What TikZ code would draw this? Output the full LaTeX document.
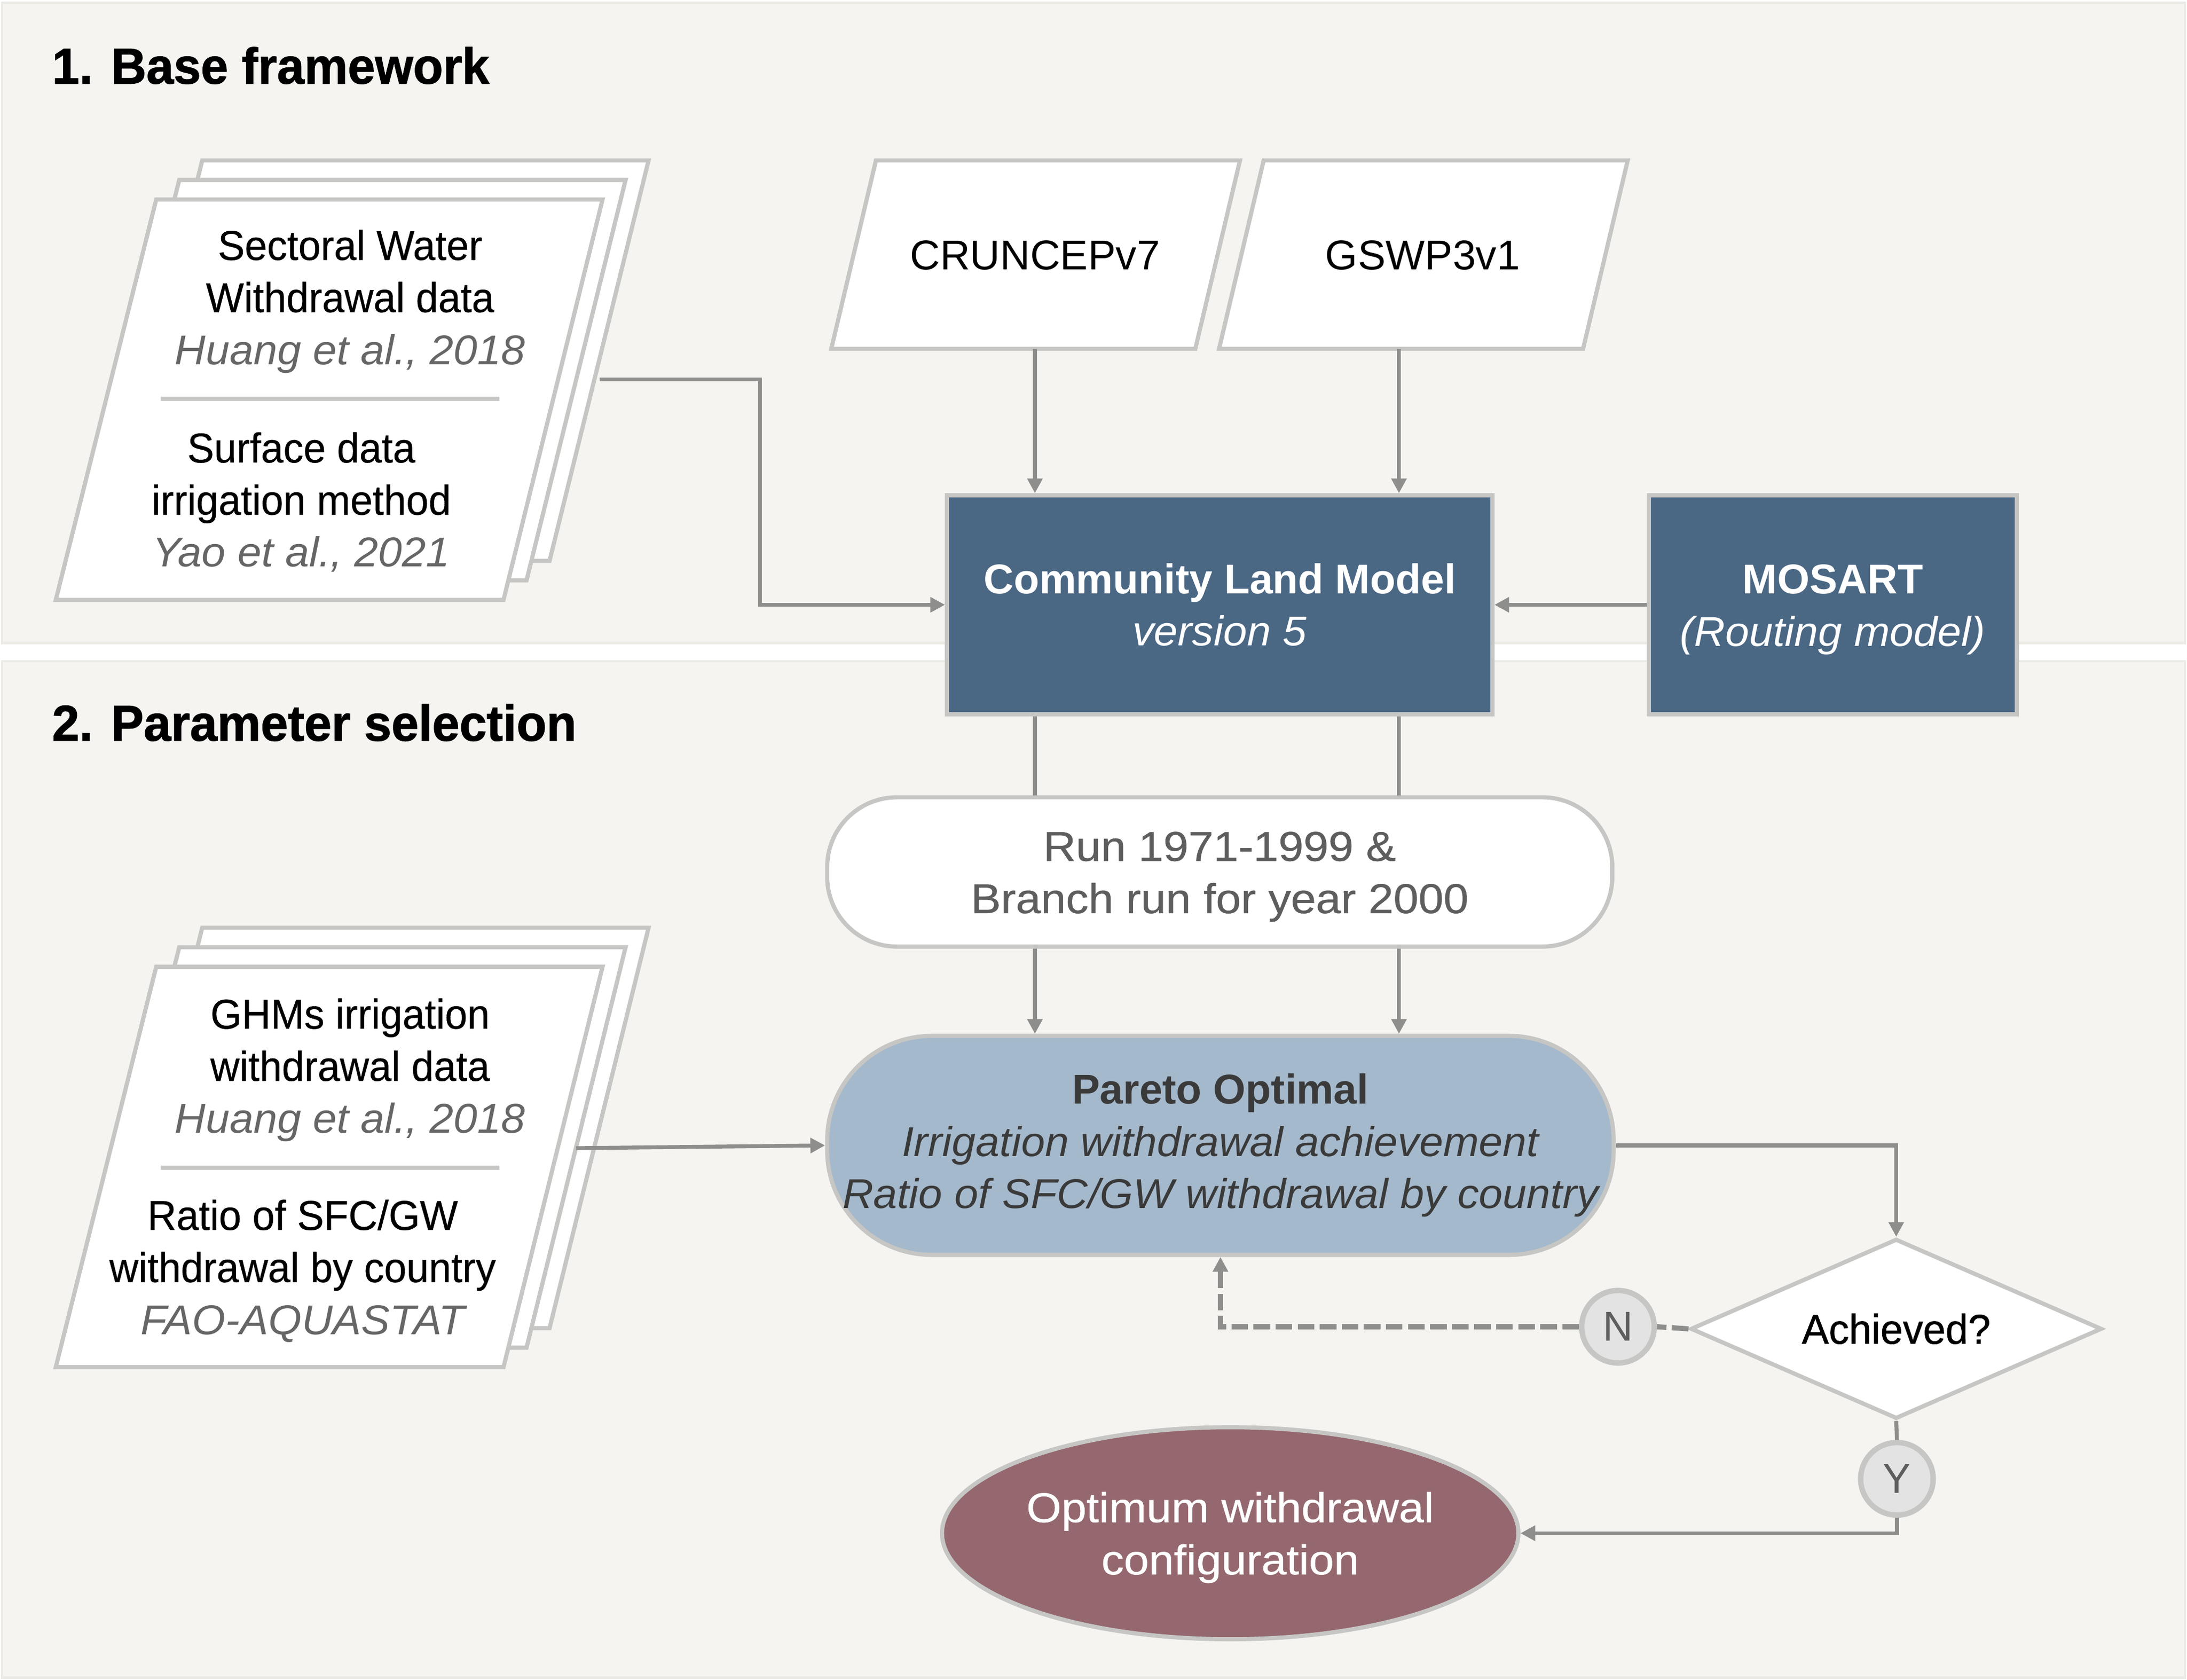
\documentclass[tikz,border=0pt]{standalone}
\usepackage{fontspec}
\setmainfont{Liberation Sans}[FakeStretch=1.0]
\newfontfamily\titlefont{Liberation Sans}[FakeStretch=0.97, FakeBold=1.2]
\newfontfamily\itfont{Liberation Sans}[FakeStretch=1.03]
\newfontfamily\stackfont{Liberation Sans}[FakeStretch=0.965, FakeBold=0.4]
\newfontfamily\medfont{Liberation Sans}[FakeStretch=1.08, FakeBold=0.6]
\newfontfamily\achfont{Liberation Sans}[FakeStretch=0.97, FakeBold=0.8]
\usetikzlibrary{arrows.meta,shapes.geometric,calc}
\definecolor{bgc}{HTML}{F5F4F0}
\definecolor{panelc}{HTML}{ECEAE4}
\definecolor{bordc}{HTML}{C6C6C4}
\definecolor{arrc}{HTML}{8E8E8C}
\definecolor{clmc}{HTML}{4A6784}
\definecolor{parc}{HTML}{A5B9CC}
\definecolor{optc}{HTML}{94686E}
\definecolor{citec}{HTML}{666666}
\definecolor{darkc}{HTML}{3A3A3A}
\definecolor{runc}{HTML}{5E5E5E}
\definecolor{circc}{HTML}{E3E3E3}
\newcommand\mycite[1]{{\color{citec}\itfont\itshape #1}}
\newcommand\myit[1]{{\itfont\itshape #1}}
\newcommand\lowstrut{\rule{0pt}{15.8pt}}
\tikzset{
  every node/.style={inner sep=0pt},
  panel/.style={fill=bgc, draw=panelc, line width=1pt},
  doc/.style={fill=white, draw=bordc, line width=1.7pt, line join=miter},
  txt/.style={align=center, font=\fontsize{17}{21.3}\selectfont, text=black},
  stk/.style={txt, font=\stackfont\fontsize{17}{21.3}\selectfont},
  ttl/.style={anchor=west, font=\titlefont\bfseries\fontsize{20.6}{24}\selectfont, text=black},
  boxc/.style={draw=bordc, line width=1.7pt},
  conn/.style={draw=arrc, line width=1.6pt},
  arr/.style={conn, -{Triangle[length=6pt,width=6pt]}},
  darr/.style={arr, line width=2.1pt, dash pattern=on 6.8pt off 2.2pt},
  dline/.style={conn, line width=2.1pt, dash pattern=on 6.8pt off 2.2pt},
  yn/.style={circle, fill=circc, draw=bordc, line width=2.2pt, minimum size=1.04cm, text=runc, font=\fontsize{17}{20}\selectfont},
}
\begin{document}
\begin{tikzpicture}[x=0.02cm, y=-0.02cm]
\useasboundingbox (0,0) rectangle (1568,1204);
\fill[white] (0,0) rectangle (1568,1204);
% panels
\draw[panel] (1.5,2) rectangle (1566.5,461);
\draw[panel] (1.5,474) rectangle (1566.5,1202.5);
\node[ttl] (t1) at (37,47) {1. Base framework};
\node[ttl] (t2) at (37,518) {2. Parameter selection};

% connectors behind stacks
\coordinate (s1out) at (430,272);
\coordinate (s1bend) at (545,272);
\coordinate (s2out) at (413,823);

% stack 1
\foreach \k in {2,1,0}{
  \draw[doc, shift={({16.5*\k},{-14*\k})}] (112,143) -- (432,143) -- (361,430) -- (40,430) -- cycle;
}
\draw[bordc, line width=1.7pt] (115,286) -- (358,286);
\node[stk] (swd) at (251,216) {Sectoral Water\\Withdrawal data\\\mycite{Huang et al., 2018}};
\node[stk] (sfd) at (216,360) {Surface data\\irrigation method\\\mycite{Yao et al., 2021}};

% stack 2
\begin{scope}[shift={(0,550)}]
\foreach \k in {2,1,0}{
  \draw[doc, shift={({16.5*\k},{-14*\k})}] (112,143) -- (432,143) -- (361,430) -- (40,430) -- cycle;
}
\draw[bordc, line width=1.7pt] (115,287) -- (358,287);
\end{scope}
\node[stk] (ghm) at (251,767) {GHMs irrigation\\withdrawal data\\\mycite{Huang et al., 2018}};
\node[stk] (rat) at (217,911) {Ratio of SFC/GW\\withdrawal by country\\\mycite{FAO-AQUASTAT}};

% forcing data
\draw[doc] (628,115) -- (889,115) -- (857,250) -- (596,250) -- cycle;
\node[txt] (crun) at (742,183) {CRUNCEPv7};
\coordinate (crunB) at (742,250);
\draw[doc] (906,115) -- (1167,115) -- (1135,250) -- (874,250) -- cycle;
\node[txt] (gswp) at (1020,183) {GSWP3v1};
\coordinate (gswpB) at (1003,250);

% models
\node[boxc, fill=clmc, minimum width=7.82cm, minimum height=3.14cm, txt, text=white] (clm) at (874.5,433.5)
  {\bfseries Community Land Model\\\myit{version 5}};
\node[boxc, fill=clmc, minimum width=5.28cm, minimum height=3.14cm, txt, text=white] (mos) at (1314,433.5)
  {\lowstrut\bfseries MOSART\\\myit{(Routing model)}};

\node[boxc, fill=white, rounded corners=1.0cm, minimum width=11.26cm, minimum height=2.14cm, txt, font=\medfont\fontsize{17}{21.3}\selectfont, text=runc] (run) at (874.5,625)
  {\lowstrut Run 1971-1999 \&\\Branch run for year 2000};

\node[boxc, fill=parc, rounded corners=1.5cm, minimum width=11.28cm, minimum height=3.14cm, txt, text=darkc] (par) at (875,821)
  {\bfseries Pareto Optimal\\\myit{Irrigation withdrawal achievement}\\\myit{Ratio of SFC/GW withdrawal by country}};

\node[diamond, shape aspect=2.3, boxc, fill=white, minimum width=5.9cm, minimum height=2.58cm, txt, font=\achfont\fontsize{17}{21.3}\selectfont] (dia) at (1359.5,952.5) {Achieved?};
\node[yn] (nc) at (1160,951) {N};
\node[yn] (yc) at (1360,1060) {Y};

\node[ellipse, boxc, fill=optc, minimum width=8.2cm, minimum height=3.04cm, txt, font=\medfont\fontsize{17}{21.3}\selectfont, text=white] (opt) at (882,1099)
  {\lowstrut Optimum withdrawal\\configuration};

% connectors
\draw[arr] (s1out) -- (s1bend) |- (clm.west);
\draw[arr] (crunB) -- (crunB |- clm.north);
\draw[arr] (gswpB) -- (gswpB |- clm.north);
\draw[arr] (mos.west) -- (clm.east);
\draw[conn] (clm.south -| crunB) -- (run.north -| crunB);
\draw[conn] (clm.south -| gswpB) -- (run.north -| gswpB);
\draw[arr] (run.south -| crunB) -- (par.north -| crunB);
\draw[arr] (run.south -| gswpB) -- (par.north -| gswpB);
\draw[arr] (s2out) -- (par.west);
\draw[arr] (par.east) -| (dia.north);
\draw[dline] (dia.west) -- (nc.east);
\draw[darr] (nc.west) -| (par.south);
\draw[conn] (dia.south) -- (yc.north);
\draw[arr] (yc.south) |- (opt.east);
\end{tikzpicture}
\end{document}
